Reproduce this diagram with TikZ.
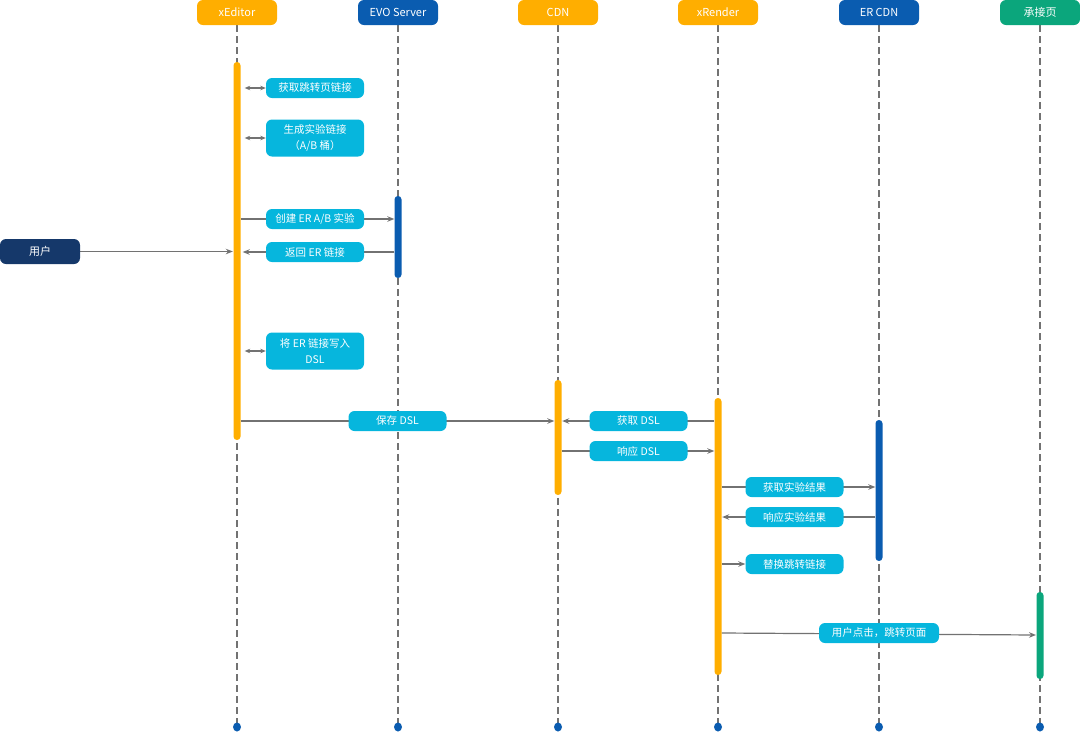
\documentclass[tikz,border=0pt]{standalone}
\usepackage{fontspec}
\setmainfont{Noto Sans CJK SC}
\usetikzlibrary{arrows.meta,backgrounds,shapes.geometric}
\definecolor{orng}{HTML}{FFAE00}
\definecolor{eblue}{HTML}{0A5CB0}
\definecolor{grn}{HTML}{0BA67C}
\definecolor{tealb}{HTML}{06B6DD}
\definecolor{navy}{HTML}{15386A}
\definecolor{lgray}{HTML}{727272}
\begin{document}
\begin{tikzpicture}[x=1pt,y=-1pt,
  head/.style={rounded corners=6pt, minimum width=80pt, minimum height=25pt, text=white, font=\fontsize{11}{13}\selectfont, inner sep=0pt},
  lbl/.style={fill=tealb, rounded corners=6pt, minimum width=98pt, minimum height=20pt, text=white, font=\fontsize{10.5}{15.5}\selectfont, inner sep=0pt, align=center},
  act/.style={rounded corners=3.4pt, minimum width=7pt, inner sep=0pt},
  life/.style={draw=lgray, dash pattern=on 7pt off 4pt, line width=1.1pt},
  endpt/.style={ellipse, fill=eblue, minimum width=8pt, minimum height=9pt, inner sep=0pt},
  msg/.style={draw=lgray, line width=1.2pt, -{Stealth[length=7pt,width=5.5pt]}},
  dbl/.style={draw=lgray, line width=1.2pt, {Stealth[length=5.5pt,width=4.5pt]}-{Stealth[length=5.5pt,width=4.5pt]}}
]
\useasboundingbox (0,0) rectangle (1080,732);
% headers
\node[head, fill=orng] (hE) at (237,12.5) {xEditor};
\node[head, fill=eblue] (hV) at (398,12.5) {EVO Server};
\node[head, fill=orng] (hC) at (558,12.5) {CDN};
\node[head, fill=orng] (hR) at (718,12.5) {xRender};
\node[head, fill=eblue] (hD) at (879,12.5) {ER CDN};
\node[head, fill=grn] (hP) at (1040,12.5) {承接页};
% end points
\node[endpt] (dE) at (237,727) {};
\node[endpt] (dV) at (398,727) {};
\node[endpt] (dC) at (558,727) {};
\node[endpt] (dR) at (718,727) {};
\node[endpt] (dD) at (879,727) {};
\node[endpt] (dP) at (1040,727) {};
% activations
\node[act, fill=orng, minimum height=378pt] (aE) at (237,251) {};
\node[act, fill=eblue, minimum height=82pt] (aV) at (398,237) {};
\node[act, fill=orng, minimum height=115pt] (aC) at (558,437.5) {};
\node[act, fill=orng, minimum height=277pt] (aR) at (718,536.5) {};
\node[act, fill=eblue, minimum height=141pt] (aD) at (879,490.5) {};
\node[act, fill=grn, minimum height=87pt] (aP) at (1040,635.5) {};
% user
\node[head, fill=navy] (user) at (40,251.5) {用户};
% labels
\node[lbl] (l1) at (315,88) {获取跳转页链接};
\node[lbl, minimum height=37pt] (l2) at (315,138) {生成实验链接\\（A/B 桶）};
\node[lbl] (l3) at (315,219) {创建 ER A/B 实验};
\node[lbl] (l4) at (315,252) {返回 ER 链接};
\node[lbl, minimum height=37pt] (l5) at (315,351) {将 ER 链接写入\\DSL};
\node[lbl] (l6) at (397.5,421) {保存 DSL};
\node[lbl] (l7) at (638.5,421) {获取 DSL};
\node[lbl] (l8) at (638.5,451) {响应 DSL};
\node[lbl] (l9) at (794.5,487) {获取实验结果};
\node[lbl] (l10) at (794.5,517) {响应实验结果};
\node[lbl] (l11) at (794.5,564) {替换跳转链接};
\node[lbl, minimum width=120pt] (l12) at (879,633) {用户点击，跳转页面};
\coordinate (pin) at (1036,635);
\begin{pgfonlayer}{background}
  \foreach \n in {E,V,C,R,D,P} \draw[life] (h\n.south) -- (d\n.center);
  \draw[dbl] ([xshift=4pt]aE.east |- l1) -- (l1.west);
  \draw[dbl] ([xshift=4pt]aE.east |- l2) -- (l2.west);
  \draw[dbl] ([xshift=4pt]aE.east |- l5) -- (l5.west);
  \draw[msg] (aE.east |- l3) -- (aV.west |- l3);
  \draw[msg, shorten >=2pt] (aV.west |- l4) -- (aE.east |- l4);
  \draw[msg, shorten >=0.5pt] (user.east) -- (aE.west |- user);
  \draw[msg] (aE.east |- l6) -- (aC.west |- l6);
  \draw[msg, shorten >=0.5pt] (aR.west |- l7) -- (aC.east |- l7);
  \draw[msg] (aC.east |- l8) -- (aR.west |- l8);
  \draw[msg] (aR.east |- l9) -- (aD.west |- l9);
  \draw[msg, shorten >=0.5pt] (aD.west |- l10) -- (aR.east |- l10);
  \draw[msg] (aR.east |- l11) -- (l11.west);
  \draw[msg] (aR.east |- l12) -- (pin);
\end{pgfonlayer}
\end{tikzpicture}
\end{document}
